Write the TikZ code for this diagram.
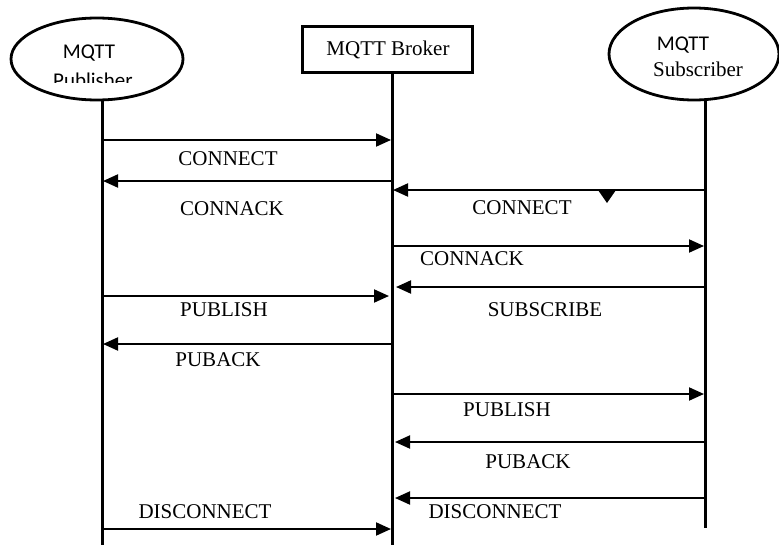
\documentclass[tikz,border=0pt]{standalone}
\usepackage{fontspec}
\setmainfont{Liberation Serif}
\newfontfamily\calib{Carlito}
\usetikzlibrary{arrows.meta,shapes.geometric}
\begin{document}
\begin{tikzpicture}[x=1pt,y=-1pt,
  actor/.style={draw,line width=2.8pt,ellipse,inner sep=0pt},
  brokerbox/.style={draw,line width=3pt,rectangle,inner sep=0pt,minimum width=170pt,minimum height=46pt},
  life/.style={line width=3pt},
  msg/.style={line width=2pt,-{Triangle[length=15pt,width=13pt]}},
  lbl/.style={font=\fontsize{21}{24}\selectfont,inner sep=0pt},
  sans/.style={font=\calib\fontsize{21}{24}\selectfont,inner sep=0pt,anchor=base},
  serifb/.style={font=\fontsize{21}{24}\selectfont,inner sep=0pt,anchor=base}]
\useasboundingbox (0,0) rectangle (779,546);
\fill[white] (0,0) rectangle (779,546);
% actors
\node[actor,minimum width=172pt,minimum height=82pt] (pub) at (97,59) {};
\node[brokerbox] (broker) at (387,49) {};
\node[actor,minimum width=170pt,minimum height=92pt] (sub) at (694,54) {};
% actor texts
\node[sans] (pubt1) at (89,58) {MQTT};
\begin{scope}
  \clip (0,0) rectangle (200,82);
  \node[sans] (pubt2) at (93,87) {Publisher};
\end{scope}
\node[serifb] (brokt) at (388,55) {MQTT Broker};
\node[sans] (subt1) at (683,50) {MQTT};
\node[serifb] (subt2) at (698,76) {Subscriber};
% lifelines
\coordinate (P) at (102,0);
\coordinate (B) at (392,0);
\coordinate (S) at (705,0);
\draw[life] (pub.south -| P) -- (P |- 0,545);
\draw[life] (broker.south -| B) -- (B |- 0,545);
\draw[life] (sub.south -| S) -- (S |- 0,528);
% messages
\draw[msg] (P |- 0,140) -- ([xshift=-1pt]B |- 0,140);
\node[lbl] (l1) at (228,159) {CONNECT};
\draw[msg] (B |- 0,181) -- ([xshift=1pt]P |- 0,181);
\node[lbl] (l2) at (232,209) {CONNACK};
\draw[msg] (S |- 0,190) -- ([xshift=1pt]B |- 0,190);
\node[lbl] (l3) at (522,208) {CONNECT};
\fill (598,190) -- (616,190) -- (607,203) -- cycle;
\draw[msg] (B |- 0,246) -- ([xshift=-1pt]S |- 0,246);
\node[lbl] (l4) at (472,259) {CONNACK};
\draw[msg] (S |- 0,287) -- ([xshift=4pt]B |- 0,287);
\node[lbl] (l5) at (545,310) {SUBSCRIBE};
\draw[msg] (P |- 0,296) -- ([xshift=-3pt]B |- 0,296);
\node[lbl] (l6) at (224,310) {PUBLISH};
\draw[msg] (B |- 0,344) -- ([xshift=1pt]P |- 0,344);
\node[lbl] (l7) at (218,360) {PUBACK};
\draw[msg] (B |- 0,394) -- ([xshift=-1pt]S |- 0,394);
\node[lbl] (l8) at (507,410) {PUBLISH};
\draw[msg] (S |- 0,442) -- ([xshift=3pt]B |- 0,442);
\node[lbl] (l9) at (528,462) {PUBACK};
\draw[msg] (S |- 0,498) -- ([xshift=3pt]B |- 0,498);
\node[lbl] (l10) at (495,512) {DISCONNECT};
\draw[msg] (P |- 0,529) -- ([xshift=-1pt]B |- 0,529);
\node[lbl] (l11) at (205,512) {DISCONNECT};
\end{tikzpicture}
\end{document}
